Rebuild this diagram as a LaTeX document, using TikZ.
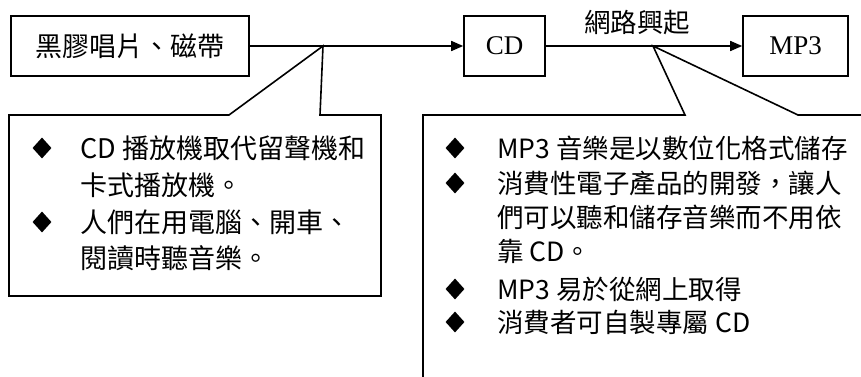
\documentclass[tikz,border=0pt]{standalone}
\usepackage{fontspec}
\setmainfont{Liberation Serif}
\newfontfamily\cjk{Noto Sans CJK TC}
\usetikzlibrary{arrows.meta,shapes.geometric}

\tikzset{
  stage/.style={draw,line width=1.6pt,minimum height=60pt,inner sep=0pt,font=\fontsize{27}{27}\selectfont},
  bulletmark/.style={diamond,fill=black,inner sep=0pt,minimum width=19pt,minimum height=21pt},
  itemline/.style={anchor=base west,inner sep=0pt,font=\cjk\fontsize{27}{27}\selectfont},
  flow/.style={line width=1.6pt,-{Triangle[length=12pt,width=10pt]}},
  callout/.style={line width=1.6pt},
}

\begin{document}
\begin{tikzpicture}[x=1pt,y=-1pt]
  \useasboundingbox (0,0) rectangle (861,377);

  % stages
  \node[stage,minimum width=238pt,font=\cjk\fontsize{27}{27}\selectfont] (disc) at (130,46) {黑膠唱片、磁帶};
  \node[stage,minimum width=81pt] (cd) at (504.5,46) {CD};
  \node[stage,minimum width=105pt] (mp) at (795.5,46) {MP3};
  \draw[flow] (disc) -- (cd);
  \draw[flow] (cd) -- (mp);
  \node[itemline,anchor=base,font=\cjk\fontsize{26.5}{26.5}\selectfont] (rise) at (637,33) {網路興起};

  % callouts
  \coordinate (tipA) at (323,46);
  \coordinate (tipB) at (653,46);
  \draw[callout] (9,115) -- (229,115) -- (tipA) -- (320,115) -- (381,115) -- (381,296) -- (9,296) -- cycle;
  \draw[callout] (423,377) -- (423,115) -- (685,115) -- (tipB) -- (798,115) -- (861,115);

  % left notes
  \foreach \y in {148,222}
    \node[bulletmark] (la\y) at (42,\y) {};
  \foreach \y/\txt in {158/CD 播放機取代留聲機和,195/卡式播放機。,232/人們在用電腦、開車、,268/閱讀時聽音樂。}
    \node[itemline] (lt\y) at (80,\y) {\txt};

  % right notes
  \foreach \y in {148,183,289,322}
    \node[bulletmark] (ra\y) at (455,\y) {};
  \foreach \y/\txt in {158/MP3 音樂是以數位化格式儲存,193/消費性電子產品的開發，讓人,227/們可以聽和儲存音樂而不用依,261/靠 CD。,299/MP3 易於從網上取得,332/消費者可自製專屬 CD}
    \node[itemline,font=\cjk\fontsize{26.5}{26.5}\selectfont] (rt\y) at (497,\y) {\txt};
\end{tikzpicture}
\end{document}
